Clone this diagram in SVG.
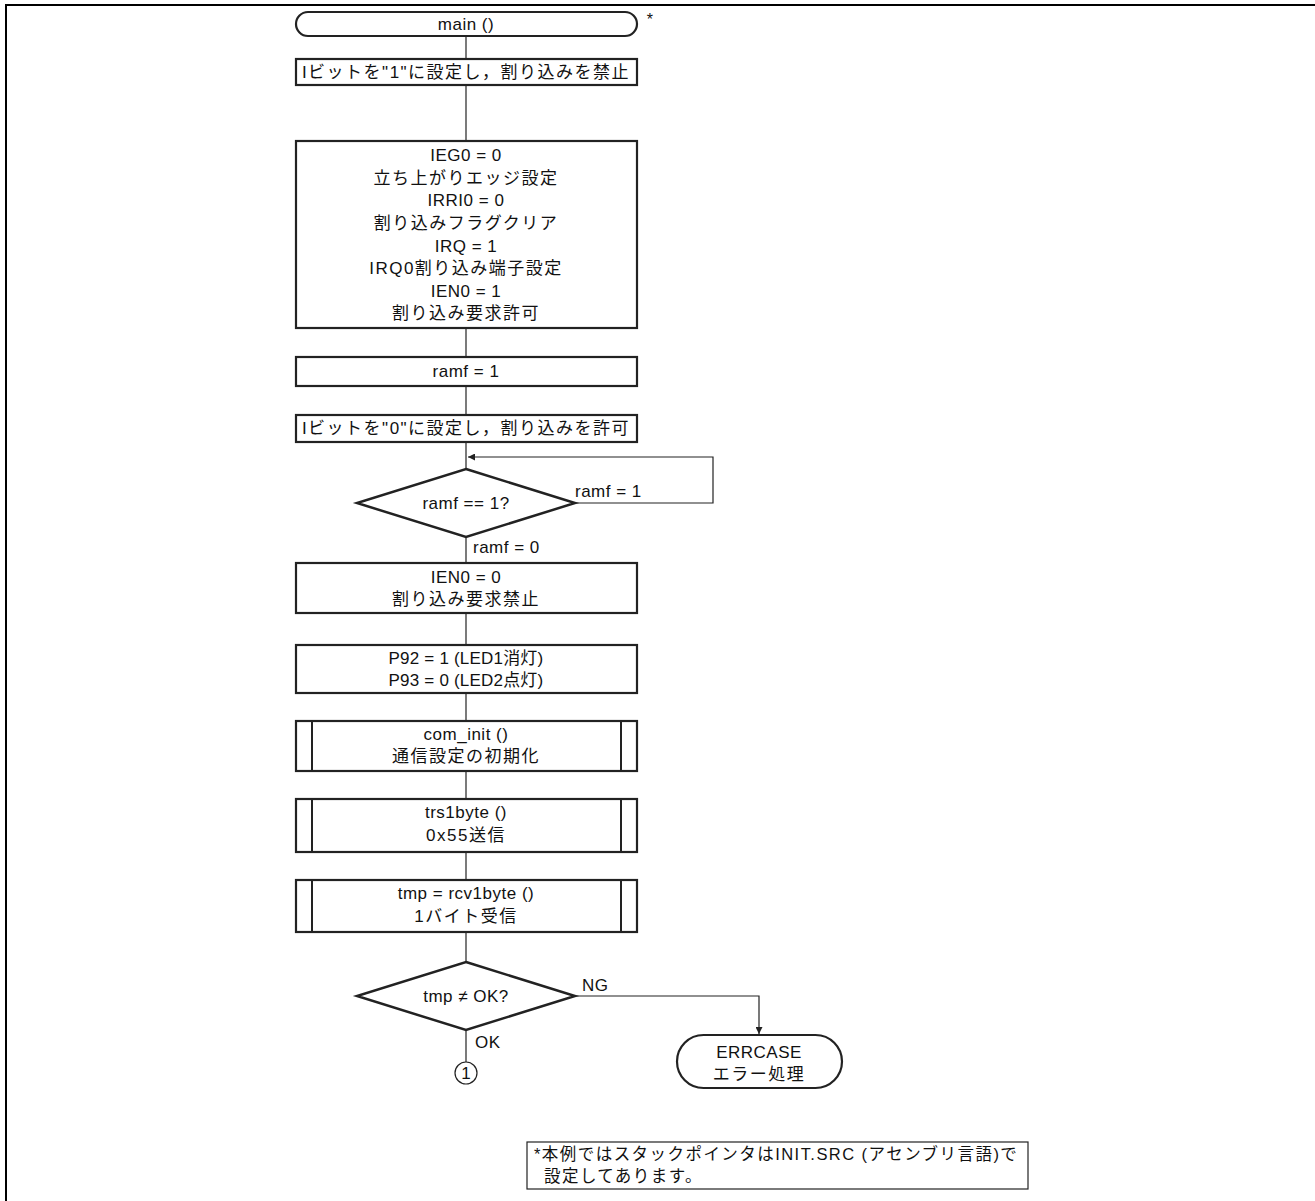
<svg xmlns="http://www.w3.org/2000/svg" width="1315" height="1201" viewBox="0 0 1315 1201">
<style>
  .t { font-family: "Liberation Sans", "Noto Sans CJK JP", sans-serif; font-size: 17px; fill: #111; text-anchor: middle; letter-spacing: 0.5px; }
  .j { font-family: "Liberation Sans", "Noto Sans CJK JP", sans-serif; font-size: 17px; fill: #111; text-anchor: middle; letter-spacing: 1.5px; }
  .m { letter-spacing: 0.2px; }
  .l { text-anchor: start; }
  .box { fill: #fff; stroke: #222; stroke-width: 2.2; }
  .dia { fill: #fff; stroke: #222; stroke-width: 2.5; }
  .c { fill: none; stroke: #222; stroke-width: 1.2; }
  .note { fill: #fff; stroke: #222; stroke-width: 1.2; }
</style>
<defs>
  <marker id="ah" viewBox="0 0 10 10" refX="10" refY="5" markerWidth="9" markerHeight="7" markerUnits="userSpaceOnUse" orient="auto">
    <path d="M0,0 L10,5 L0,10 Z" fill="#222"/>
  </marker>
</defs>
<rect width="1315" height="1201" fill="#fff"/>
<path d="M6,1201 V5 H1315" fill="none" stroke="#000" stroke-width="2"/>

<g id="connectors">
  <line class="c" x1="466" y1="36" x2="466" y2="59"/>
  <line class="c" x1="466" y1="85" x2="466" y2="141"/>
  <line class="c" x1="466" y1="328" x2="466" y2="357"/>
  <line class="c" x1="466" y1="386" x2="466" y2="415"/>
  <line class="c" x1="466" y1="442" x2="466" y2="469"/>
  <polyline class="c" points="575,503 713,503 713,457 468,457" marker-end="url(#ah)"/>
  <line class="c" x1="466" y1="537" x2="466" y2="563"/>
  <line class="c" x1="466" y1="613" x2="466" y2="645"/>
  <line class="c" x1="466" y1="693" x2="466" y2="721"/>
  <line class="c" x1="466" y1="771" x2="466" y2="799"/>
  <line class="c" x1="466" y1="852" x2="466" y2="880"/>
  <line class="c" x1="466" y1="932" x2="466" y2="962"/>
  <polyline class="c" points="575,996 759,996 759,1034" marker-end="url(#ah)"/>
  <line class="c" x1="466" y1="1030" x2="466" y2="1062"/>
  <text class="t l" x="575" y="497">ramf = 1</text>
  <text class="t l" x="473" y="553">ramf = 0</text>
  <text class="t l" x="582" y="991">NG</text>
  <text class="t l" x="475" y="1048">OK</text>
</g>

<g id="start">
  <rect class="box" x="296" y="12" width="341" height="24" rx="12"/>
  <text class="t" x="466" y="30">main ()</text>
  <text class="t" x="650" y="25" style="font-size:16px">*</text>
</g>

<g id="disable-int">
  <rect class="box" x="296" y="59" width="341" height="26"/>
  <text class="j" x="466" y="78">Iビットを"1"に設定し，割り込みを禁止</text>
</g>

<g id="irq-setup">
  <rect class="box" x="296" y="141" width="341" height="187"/>
  <text class="t" x="466" y="161">IEG0 = 0</text>
  <text class="j" x="466" y="184">立ち上がりエッジ設定</text>
  <text class="t" x="466" y="206">IRRI0 = 0</text>
  <text class="j" x="466" y="229">割り込みフラグクリア</text>
  <text class="t" x="466" y="252">IRQ = 1</text>
  <text class="j" x="466" y="274">IRQ0割り込み端子設定</text>
  <text class="t" x="466" y="297">IEN0 = 1</text>
  <text class="j" x="466" y="319">割り込み要求許可</text>
</g>

<g id="ramf-set">
  <rect class="box" x="296" y="357" width="341" height="29"/>
  <text class="t" x="466" y="377">ramf = 1</text>
</g>

<g id="enable-int">
  <rect class="box" x="296" y="415" width="341" height="27"/>
  <text class="j" x="466" y="434">Iビットを"0"に設定し，割り込みを許可</text>
</g>

<g id="ramf-check">
  <polygon class="dia" points="466,469 575,503 466,537 357,503"/>
  <text class="t" x="466" y="509">ramf == 1?</text>
</g>

<g id="ien0-clear">
  <rect class="box" x="296" y="563" width="341" height="50"/>
  <text class="t" x="466" y="583">IEN0 = 0</text>
  <text class="j" x="466" y="605">割り込み要求禁止</text>
</g>

<g id="led">
  <rect class="box" x="296" y="645" width="341" height="48"/>
  <text class="t m" x="466" y="664">P92 = 1 (LED1消灯)</text>
  <text class="t m" x="466" y="686">P93 = 0 (LED2点灯)</text>
</g>

<g id="com-init">
  <rect class="box" x="296" y="721" width="341" height="50"/>
  <line x1="312" y1="721" x2="312" y2="771" stroke="#222" stroke-width="2"/>
  <line x1="621" y1="721" x2="621" y2="771" stroke="#222" stroke-width="2"/>
  <text class="t" x="466" y="740">com_init ()</text>
  <text class="j" x="466" y="762">通信設定の初期化</text>
</g>

<g id="trs1byte">
  <rect class="box" x="296" y="799" width="341" height="53"/>
  <line x1="312" y1="799" x2="312" y2="852" stroke="#222" stroke-width="2"/>
  <line x1="621" y1="799" x2="621" y2="852" stroke="#222" stroke-width="2"/>
  <text class="t" x="466" y="818">trs1byte ()</text>
  <text class="j" x="466" y="841">0x55送信</text>
</g>

<g id="rcv1byte">
  <rect class="box" x="296" y="880" width="341" height="52"/>
  <line x1="312" y1="880" x2="312" y2="932" stroke="#222" stroke-width="2"/>
  <line x1="621" y1="880" x2="621" y2="932" stroke="#222" stroke-width="2"/>
  <text class="t" x="466" y="899">tmp = rcv1byte ()</text>
  <text class="j" x="466" y="922">1バイト受信</text>
</g>

<g id="tmp-check">
  <polygon class="dia" points="466,962 575,996 466,1030 357,996"/>
  <text class="t" x="466" y="1002">tmp ≠ OK?</text>
</g>

<g id="errcase">
  <rect class="box" x="677" y="1035" width="165" height="53" rx="26.5"/>
  <text class="t" x="759" y="1058">ERRCASE</text>
  <text class="j" x="759" y="1080">エラー処理</text>
</g>

<g id="connector-1">
  <circle cx="466" cy="1073" r="11" fill="#fff" stroke="#222" stroke-width="1.2"/>
  <text class="t" x="466" y="1079" style="letter-spacing:0">1</text>
</g>

<g id="note">
  <rect class="note" x="527" y="1142" width="501" height="47"/>
  <text class="j l" x="534" y="1160" style="font-size:16.5px;letter-spacing:1.45px">*本例ではスタックポインタはINIT.SRC (アセンブリ言語)で</text>
  <text class="j l" x="544" y="1182" style="font-size:16.5px;letter-spacing:1.45px">設定してあります。</text>
</g>
</svg>
